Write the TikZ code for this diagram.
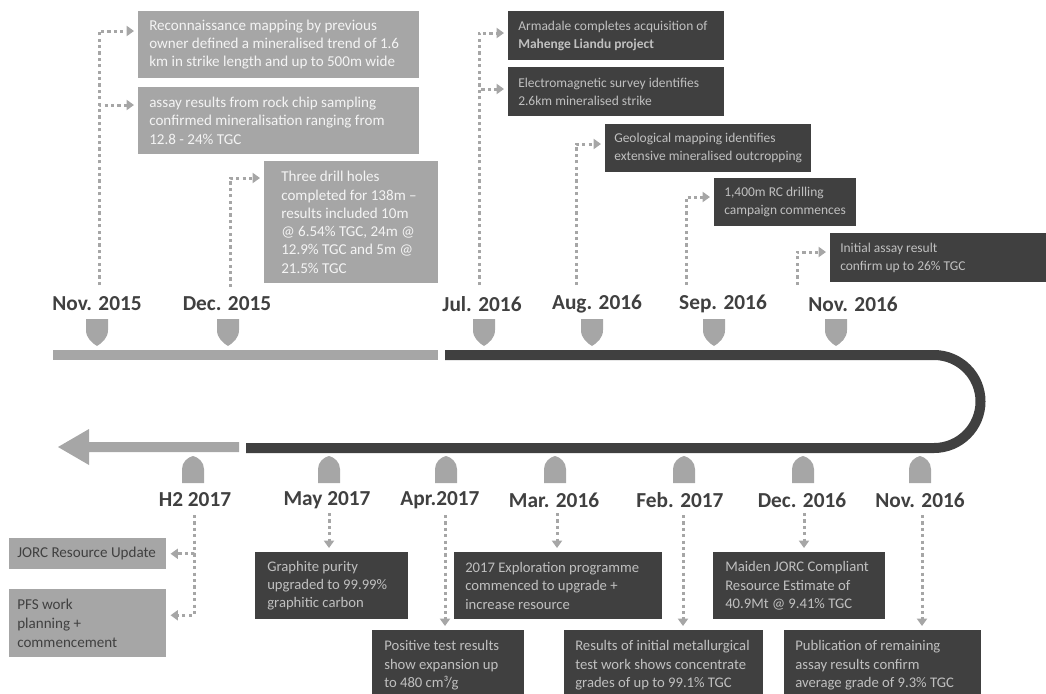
\documentclass[tikz,border=0pt]{standalone}
\usepackage{fontspec}
\setmainfont{Carlito}
\usetikzlibrary{arrows.meta}
\definecolor{lg}{HTML}{A6A6A6}
\definecolor{dg}{HTML}{404040}
\definecolor{lt}{HTML}{C0C0C0}
\definecolor{wt}{HTML}{F4F4F4}
% name, x1, y1, x2, y2, box style, text style, padding(px), text
\newcommand\tlbox[9]{%
  \pgfmathsetmacro\tlbw{(#4-#2)*0.75}%
  \pgfmathsetmacro\tlbh{(#5-#3)*0.75}%
  \pgfmathsetmacro\tlpad{#8*0.75}%
  \node[#6, anchor=north west, inner sep=0pt,
        minimum width=\tlbw pt, minimum height=\tlbh pt] (#1) at (#2,#3) {};
  \node[#7, anchor=west, inner sep=0pt, align=left] (#1t) at ([xshift=\tlpad pt]#1.west) {#9};}
\begin{document}
\begin{tikzpicture}[x=0.75pt,y=-0.75pt,
  lfill/.style={fill=lg},
  dfill/.style={fill=dg},
  ltxt/.style={text=wt, font=\fontsize{11.3}{13.7}\selectfont},
  dtxt/.style={text=lt, font=\fontsize{10.1}{13.7}\selectfont},
  btxt/.style={text=lt, font=\fontsize{11}{13.7}\selectfont},
  lbtxt/.style={text=dg, font=\fontsize{11.3}{14.5}\selectfont},
  datelbl/.style={text=dg, font=\bfseries\fontsize{16}{18}\selectfont, inner sep=1pt},
  dots/.style={draw=lg, line width=2.25pt, dash pattern=on 2.4pt off 2.4pt,
    -{Triangle[length=5.5pt,width=7.5pt]}, shorten >=3pt},
  topmark/.pic={\fill[lg] (-11,0) -- (11,0) -- (11,11) .. controls (11,19) and (5,24) .. (0,27)
      .. controls (-5,24) and (-11,19) .. (-11,11) -- cycle;},
  botmark/.pic={\fill[lg] (-11,27) -- (-11,13) .. controls (-11,6) and (-5,1) .. (0,0)
      .. controls (5,1) and (11,6) .. (11,13) -- (11,27) -- cycle;}
]
\useasboundingbox (0,0) rectangle (1046,693);

% timeline
\fill[lg] (53,350) rectangle (438,360);
\draw[dg, line width=7.5pt] (445,355) -- (934,355) arc (-90:90:46.5) -- (246,448);
\fill[lg] (239,442) -- (89,442) -- (89,429) -- (58,447) -- (89,465) -- (89,452) -- (239,452) -- cycle;

% markers
\foreach \cx in {97,228,484,592,714,836} \pic at (\cx,319) {topmark};
\foreach \cx in {193,329,446,555,684,803,920} \pic at (\cx,456) {botmark};

% date labels
\node[datelbl] (d1) at (97,304) {Nov. 2015};
\node[datelbl] (d2) at (227,304) {Dec. 2015};
\node[datelbl] (d3) at (482,304) {Jul. 2016};
\node[datelbl] (d4) at (597,304) {Aug. 2016};
\node[datelbl] (d5) at (723,304) {Sep. 2016};
\node[datelbl] (d6) at (853,304) {Nov. 2016};
\node[datelbl] (e1) at (195,500) {H2 2017};
\node[datelbl] (e2) at (327,500) {May 2017};
\node[datelbl] (e3) at (440,500) {Apr.2017};
\node[datelbl] (e4) at (554,500) {Mar. 2016};
\node[datelbl] (e5) at (680,500) {Feb. 2017};
\node[datelbl] (e6) at (802,500) {Dec. 2016};
\node[datelbl] (e7) at (920,500) {Nov. 2016};

% top boxes
\tlbox{b1}{138}{11}{419}{78}{lfill}{ltxt}{11}{Reconnaissance mapping by previous\\owner defined a mineralised trend of 1.6\\km in strike length and up to 500m wide}
\tlbox{b2}{138}{87}{419}{154}{lfill}{ltxt}{11}{assay results from rock chip sampling\\confirmed mineralisation ranging from\\12.8 - 24\% TGC}
\tlbox{b3}{264}{161}{438}{283}{lfill}{ltxt}{17}{Three drill holes\\completed for 138m –\\results included 10m\\@ 6.54\% TGC, 24m @\\12.9\% TGC and 5m @\\21.5\% TGC}
\tlbox{b4}{508}{11}{724}{60}{dfill}{dtxt}{10}{Armadale completes acquisition of\\\textbf{Mahenge Liandu project}}
\tlbox{b5}{508}{67}{724}{116}{dfill}{dtxt}{10}{Electromagnetic survey identifies\\2.6km mineralised strike}
\tlbox{b6}{605}{124}{811}{172}{dfill}{dtxt}{9}{Geological mapping identifies\\extensive mineralised outcropping}
\tlbox{b7}{714}{178}{856}{226}{dfill}{dtxt}{10}{1,400m RC drilling\\campaign commences}
\tlbox{b8}{830}{233}{1046}{282}{dfill}{dtxt}{10}{Initial assay result\\confirm up to 26\% TGC}

% bottom boxes
\tlbox{c1}{9}{538}{166}{569}{lfill}{lbtxt}{8}{JORC Resource Update}
\tlbox{c2}{9}{589}{166}{657}{lfill}{lbtxt}{8}{PFS work\\planning +\\commencement}
\tlbox{c3}{255}{552}{408}{619}{dfill}{btxt}{12}{Graphite purity\\upgraded to 99.99\%\\graphitic carbon}
\tlbox{c4}{372}{630}{524}{700}{dfill}{btxt}{12}{Positive test results\\show expansion up\\to 480 cm³/g}
\tlbox{c5}{454}{552}{662}{619}{dfill}{btxt}{11}{2017 Exploration programme\\commenced to upgrade +\\increase resource}
\tlbox{c6}{564}{630}{763}{700}{dfill}{btxt}{11}{Results of initial metallurgical\\test work shows concentrate\\grades of up to 99.1\% TGC}
\tlbox{c7}{713}{552}{885}{619}{dfill}{btxt}{12}{Maiden JORC Compliant\\Resource Estimate of\\40.9Mt @ 9.41\% TGC}
\tlbox{c8}{784}{630}{981}{700}{dfill}{btxt}{11}{Publication of remaining\\assay results confirm\\average grade of 9.3\% TGC}

% connector anchors
\coordinate (v1) at (99,285);
\coordinate (v2) at (230,287);
\coordinate (v3) at (479,285);
\coordinate (v4) at (576,285);
\coordinate (v5) at (686,285);
\coordinate (v6) at (797,285);
\coordinate (u1) at (194,515);
\coordinate (u2) at (329,513);
\coordinate (u3) at (445,515);
\coordinate (u4) at (557,513);
\coordinate (u5) at (683,515);
\coordinate (u6) at (804,513);
\coordinate (u7) at (922,515);

% top connectors
\draw[dots] (v1) |- ([yshift=-15pt]b1.north west);
\draw[dots] (v1) |- ([yshift=-13.5pt]b2.north west);
\draw[dots] (v2) |- ([yshift=-12.75pt]b3.north west);
\draw[dots] (v3) |- ([yshift=-16.5pt]b4.north west);
\draw[dots] (v3) |- ([yshift=-16.5pt]b5.north west);
\draw[dots] (v4) |- ([yshift=-15pt]b6.north west);
\draw[dots] (v5) |- ([yshift=-14.25pt]b7.north west);
\draw[dots] (v6) |- ([yshift=-14.25pt]b8.north west);

% bottom connectors
\draw[dots] (u1) |- (c1.east);
\draw[dots] (u1) |- ([yshift=6pt]c2.east);
\draw[dots] (u2) -- (u2 |- c3.north);
\draw[dots] (u3) -- (u3 |- c4.north);
\draw[dots] (u4) -- (u4 |- c5.north);
\draw[dots] (u5) -- (u5 |- c6.north);
\draw[dots] (u6) -- (u6 |- c7.north);
\draw[dots] (u7) -- (u7 |- c8.north);
\end{tikzpicture}
\end{document}
